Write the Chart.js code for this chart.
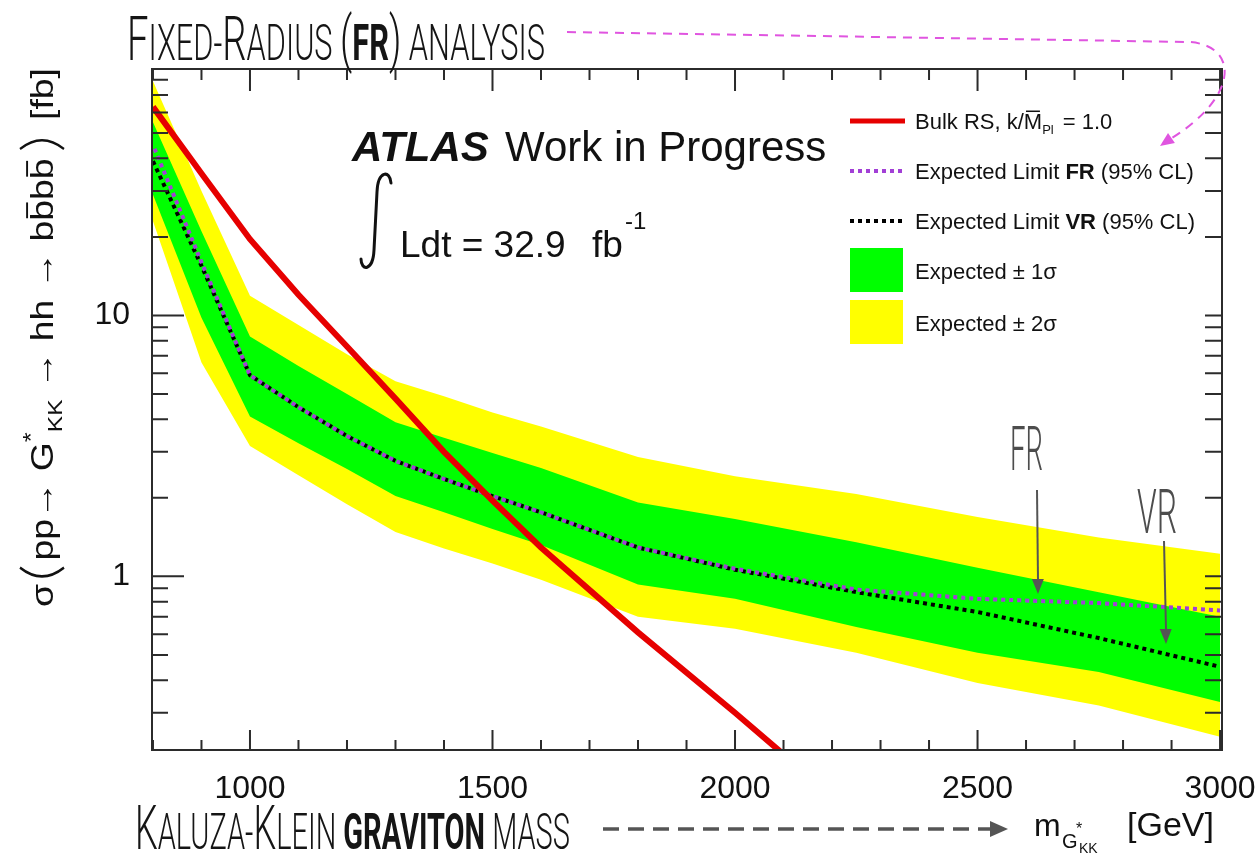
<!DOCTYPE html>
<html>
<head>
<meta charset="utf-8">
<script src="https://cdn.jsdelivr.net/npm/chart.js@4/dist/chart.umd.min.js"></script>
<style>
  html, body { margin: 0; padding: 0; background: #fff; overflow: hidden; }
  #wrap { width: 1257px; height: 854px; position: relative; }
</style>
</head>
<body>
<div id="wrap"><canvas id="c" width="1257" height="854"></canvas></div>
<script>
// Graviton mass points [GeV] for the expected limits and bands
const masses   = [800, 900, 1000, 1100, 1200, 1300, 1400, 1500, 1600, 1800, 2000, 2250, 2500, 2750, 3000];
// Expected +/- 2 sigma band [fb]
const band2Up  = [79, 30, 11.9, 9.2, 7.1, 5.6, 4.9, 4.25, 3.75, 2.87, 2.42, 2.07, 1.69, 1.41, 1.22];
const band2Dn  = [23, 6.6, 3.16, 2.44, 1.89, 1.48, 1.28, 1.12, 0.97, 0.70, 0.63, 0.51, 0.39, 0.32, 0.243];
// Expected +/- 1 sigma band [fb]
const band1Up  = [55, 21, 8.3, 6.4, 5.0, 3.9, 3.4, 2.97, 2.6, 1.92, 1.66, 1.35, 1.08, 0.87, 0.70];
const band1Dn  = [29, 9.8, 4.1, 3.24, 2.58, 2.03, 1.76, 1.52, 1.32, 0.93, 0.82, 0.64, 0.51, 0.43, 0.33];
// Expected 95% CL limits, variable-radius and fixed-radius [fb]
const limitVR  = [39, 15.5, 5.9, 4.45, 3.45, 2.77, 2.36, 2.03, 1.76, 1.29, 1.06, 0.87, 0.73, 0.58, 0.45];
const limitFR  = [45, 16, 5.9, 4.45, 3.45, 2.77, 2.36, 2.03, 1.76, 1.29, 1.07, 0.89, 0.82, 0.79, 0.74];
// Bulk RS prediction, k/MPl = 1.0
const signalMasses = [800, 900, 1000, 1100, 1200, 1300, 1400, 1500, 1600, 1800, 2000, 2250];
const signalXsec   = [63, 35, 19.6, 12.0, 7.6, 4.8, 3.0, 1.95, 1.29, 0.61, 0.30, 0.12];
// Axis ticks
const xTickValues = [800, 900, 1000, 1100, 1200, 1300, 1400, 1500, 1600, 1700, 1800, 1900, 2000,
                     2100, 2200, 2300, 2400, 2500, 2600, 2700, 2800, 2900, 3000];
const xLabelled   = [1000, 1500, 2000, 2500, 3000];
const yTickValues = [0.3, 0.4, 0.5, 0.6, 0.7, 0.8, 0.9, 1, 2, 3, 4, 5, 6, 7, 8, 9,
                     10, 20, 30, 40, 50, 60, 70, 80];
const yLabelled   = [1, 10];

const SANS = '"Liberation Sans", Arial, Helvetica, sans-serif';
const HAND = 'Roboto, "Liberation Sans Narrow", sans-serif';

const pts = (xs, ys) => xs.map((x, i) => ({ x, y: ys[i] }));

function setFont(ctx, r) {
  ctx.font = `${r.italic ? 'italic ' : ''}${r.weight || (r.bold ? 'bold' : 'normal')} ${r.size}px ${r.family || SANS}`;
}
function runWidth(ctx, r) {
  if (r.paren) return 14;
  setFont(ctx, r);
  return ctx.measureText(r.t).width;
}
function runsWidth(ctx, runs) {
  return runs.reduce((w, r) => w + runWidth(ctx, r) + (r.gap || 0), 0);
}
// draws a sequence of styled text pieces along one baseline
function drawRuns(ctx, x, y, runs) {
  for (const r of runs) {
    const w = runWidth(ctx, r);
    const yy = y + (r.dy || 0);
    if (r.paren) {
      // tall thin bracket spanning the full text height
      ctx.save();
      ctx.strokeStyle = ctx.fillStyle;
      ctx.lineWidth = 2.2;
      ctx.beginPath();
      if (r.paren === '(') {
        ctx.moveTo(x + 12, yy - 33);
        ctx.quadraticCurveTo(x - 3, yy - 11, x + 12, yy + 11);
      } else {
        ctx.moveTo(x + 2, yy - 33);
        ctx.quadraticCurveTo(x + 17, yy - 11, x + 2, yy + 11);
      }
      ctx.stroke();
      ctx.restore();
    } else {
      setFont(ctx, r);
      ctx.fillText(r.t, x, yy);
      if (r.over) {
        ctx.fillRect(x + w * 0.12, yy - r.size * 0.84, w * 0.76, Math.max(1.5, r.size * 0.06));
      }
    }
    x += w + (r.gap || 0);
  }
  return x;
}
// text squeezed horizontally between x0 and x1
function drawFitted(ctx, x0, x1, baseline, runs) {
  const w = runsWidth(ctx, runs);
  ctx.save();
  ctx.translate(x0, baseline);
  ctx.scale((x1 - x0) / w, 1);
  drawRuns(ctx, 0, 0, runs);
  ctx.restore();
}
function arrowHead(ctx, tx, ty, dx, dy, len, half) {
  const L = Math.hypot(dx, dy), ux = dx / L, uy = dy / L;
  ctx.beginPath();
  ctx.moveTo(tx, ty);
  ctx.lineTo(tx - ux * len - uy * half, ty - uy * len + ux * half);
  ctx.lineTo(tx - ux * len + uy * half, ty - uy * len - ux * half);
  ctx.closePath();
  ctx.fill();
}

const decor = {
  id: 'decor',
  afterDatasetsDraw(chart) {
    const { ctx, chartArea: a, scales: { x, y } } = chart;
    ctx.save();
    ctx.strokeStyle = '#2b2b2b';
    ctx.lineWidth = 2;
    ctx.beginPath();
    for (const t of x.ticks) {
      const px = x.getPixelForValue(t.value);
      const major = t.value % 500 === 0;
      ctx.moveTo(px, a.bottom); ctx.lineTo(px, a.bottom - (major ? 20 : 10));
      ctx.moveTo(px, a.top);    ctx.lineTo(px, a.top + (major ? 22 : 11));
    }
    for (const t of y.ticks) {
      const py = y.getPixelForValue(t.value);
      const major = yLabelled.includes(t.value);
      ctx.moveTo(a.left, py);  ctx.lineTo(a.left + (major ? 32 : 16), py);
      ctx.moveTo(a.right, py); ctx.lineTo(a.right - 17, py);
    }
    ctx.stroke();
    ctx.strokeRect(a.left, a.top, a.right - a.left, a.bottom - a.top);
    ctx.restore();
  },
  afterDraw(chart) {
    const ctx = chart.ctx;
    const ds = chart.data.datasets;
    ctx.save();
    ctx.fillStyle = '#111';
    ctx.textBaseline = 'alphabetic';
    ctx.textAlign = 'left';

    // y-axis title, rotated
    const yRuns = [
      { t: 'σ', size: 32, gap: 2 },
      { paren: '(', gap: 4 },
      { t: 'pp', size: 32 },
      { t: '→ ', size: 32 },
      { t: 'G', size: 32 },
      { t: '*', size: 22, dy: -15 },
      { t: 'KK', size: 21, dy: 9 },
      { t: ' → hh → ', size: 32 },
      { t: 'b', size: 32 }, { t: 'b', size: 32, over: true },
      { t: 'b', size: 32 }, { t: 'b', size: 32, over: true, gap: 6 },
      { paren: ')', gap: 4 },
      { t: ' [fb]', size: 32 }
    ];
    ctx.save();
    ctx.translate(53, 607);
    ctx.rotate(-Math.PI / 2);
    const yw = runsWidth(ctx, yRuns);
    ctx.scale(539 / yw, 1);
    drawRuns(ctx, 0, 0, yRuns);
    ctx.restore();

    // x-axis title
    drawRuns(ctx, 1034, 836, [{ t: 'm', size: 32 }]);
    drawRuns(ctx, 1062, 848, [{ t: 'G', size: 20 }]);
    drawRuns(ctx, 1076, 834, [{ t: '*', size: 16 }]);
    drawRuns(ctx, 1079, 853, [{ t: 'KK', size: 14 }]);
    drawRuns(ctx, 1127, 836, [{ t: '[GeV]', size: 34 }]);

    // experiment label
    drawRuns(ctx, 352, 161, [{ t: 'ATLAS', size: 42, bold: true, italic: true }]);
    drawRuns(ctx, 505, 161, [{ t: 'Work in Progress', size: 42 }]);
    // integrated luminosity
    ctx.save();
    ctx.strokeStyle = '#111';
    ctx.lineWidth = 3;
    ctx.lineCap = 'round';
    ctx.beginPath();
    ctx.moveTo(391, 183);
    ctx.bezierCurveTo(390, 170, 378, 170, 377, 192);
    ctx.lineTo(374, 250);
    ctx.bezierCurveTo(373, 272, 361, 271, 361, 259);
    ctx.stroke();
    ctx.restore();
    drawRuns(ctx, 400, 257, [{ t: 'Ldt = 32.9', size: 37 }]);
    drawRuns(ctx, 592, 257, [{ t: 'fb', size: 37 }]);
    drawRuns(ctx, 625, 229, [{ t: '-1', size: 24 }]);

    // legend
    const lx0 = 850, lx1 = 905, tx = 915;
    ctx.save();
    ctx.lineCap = 'butt';
    ctx.strokeStyle = ds[0].borderColor; ctx.lineWidth = 5;
    ctx.beginPath(); ctx.moveTo(lx0, 121); ctx.lineTo(lx1, 121); ctx.stroke();
    ctx.setLineDash([4, 4]); ctx.lineWidth = 4;
    ctx.strokeStyle = ds[1].borderColor;
    ctx.beginPath(); ctx.moveTo(lx0, 171); ctx.lineTo(lx1, 171); ctx.stroke();
    ctx.strokeStyle = ds[2].borderColor;
    ctx.beginPath(); ctx.moveTo(lx0, 221); ctx.lineTo(lx1, 221); ctx.stroke();
    ctx.restore();
    ctx.fillStyle = ds[3].backgroundColor; ctx.fillRect(lx0, 248, 53, 44);
    ctx.fillStyle = ds[5].backgroundColor; ctx.fillRect(lx0, 300, 53, 44);
    ctx.fillStyle = '#111';
    drawRuns(ctx, tx, 129, [
      { t: 'Bulk RS, k/', size: 22 }, { t: 'M', size: 22, over: true },
      { t: 'Pl', size: 13, dy: 5, gap: 3 }, { t: ' = 1.0', size: 22 }]);
    drawRuns(ctx, tx, 179, [
      { t: 'Expected Limit ', size: 22 }, { t: 'FR', size: 22, bold: true }, { t: ' (95% CL)', size: 22 }]);
    drawRuns(ctx, tx, 229, [
      { t: 'Expected Limit ', size: 22 }, { t: 'VR', size: 22, bold: true }, { t: ' (95% CL)', size: 22 }]);
    drawRuns(ctx, tx, 279, [{ t: 'Expected ± 1σ', size: 22 }]);
    drawRuns(ctx, tx, 331, [{ t: 'Expected ± 2σ', size: 22 }]);

    // hand-written notes
    const big = (t, bold) => ({ t, size: 62, family: HAND, weight: bold ? '700' : '300' });
    const sml = (t, bold) => ({ t, size: 50, family: HAND, weight: bold ? '700' : '300' });
    ctx.fillStyle = '#151515';
    drawFitted(ctx, 127, 545, 60, [
      big('F'), sml('IXED-'), big('R'), sml('ADIUS '), big('('), sml('FR', true), big(')'), sml(' ANALYSIS')]);
    drawFitted(ctx, 135, 570, 849, [
      big('K'), sml('ALUZA-'), big('K'), sml('LEIN '), sml('GRAVITON', true), sml(' MASS')]);
    ctx.fillStyle = '#4d4d4d';
    drawFitted(ctx, 1010, 1043, 470, [big('FR')]);
    drawFitted(ctx, 1137, 1177, 533, [big('VR')]);

    // arrows
    ctx.strokeStyle = '#555'; ctx.fillStyle = '#555';
    ctx.lineWidth = 2;
    ctx.beginPath(); ctx.moveTo(1037, 490); ctx.lineTo(1038, 580); ctx.stroke();
    arrowHead(ctx, 1038, 594, 0.01, 1, 15, 6);
    ctx.beginPath(); ctx.moveTo(1164, 541); ctx.lineTo(1166, 630); ctx.stroke();
    arrowHead(ctx, 1166, 644, 0.02, 1, 15, 6);
    ctx.save();
    ctx.lineWidth = 3.5; ctx.setLineDash([16, 9]);
    ctx.beginPath(); ctx.moveTo(603, 829); ctx.lineTo(990, 829); ctx.stroke();
    ctx.restore();
    arrowHead(ctx, 1008, 829, 1, 0, 18, 8);

    ctx.save();
    ctx.strokeStyle = '#e055e0'; ctx.fillStyle = '#e055e0';
    ctx.lineWidth = 2; ctx.setLineDash([9, 7]);
    ctx.beginPath();
    ctx.moveTo(567, 32);
    ctx.lineTo(1190, 42);
    ctx.bezierCurveTo(1238, 46, 1240, 95, 1172, 138);
    ctx.stroke();
    ctx.restore();
    ctx.fillStyle = '#e055e0';
    arrowHead(ctx, 1160, 146, -40, 28, 14, 6);

    ctx.restore();
  }
};

Chart.defaults.font.family = SANS;

new Chart(document.getElementById('c'), {
  type: 'line',
  data: {
    datasets: [
      { label: 'Bulk RS, k/MPl = 1.0', data: pts(signalMasses, signalXsec),
        borderColor: '#e60000', borderWidth: 6, fill: false, order: 0 },
      { label: 'Expected Limit FR (95% CL)', data: pts(masses, limitFR),
        borderColor: '#a23fd6', borderWidth: 4, borderDash: [4, 4], borderDashOffset: 4, fill: false, order: 1 },
      { label: 'Expected Limit VR (95% CL)', data: pts(masses, limitVR),
        borderColor: '#000000', borderWidth: 4, borderDash: [4, 4], fill: false, order: 2 },
      { label: 'Expected ± 1σ', data: pts(masses, band1Up),
        borderWidth: 0, borderColor: 'rgba(0,0,0,0)', backgroundColor: '#00ff00', fill: '+1', order: 5 },
      { label: '-1σ', data: pts(masses, band1Dn),
        borderWidth: 0, borderColor: 'rgba(0,0,0,0)', fill: false, order: 5 },
      { label: 'Expected ± 2σ', data: pts(masses, band2Up),
        borderWidth: 0, borderColor: 'rgba(0,0,0,0)', backgroundColor: '#ffff00', fill: '+1', order: 6 },
      { label: '-2σ', data: pts(masses, band2Dn),
        borderWidth: 0, borderColor: 'rgba(0,0,0,0)', fill: false, order: 6 }
    ]
  },
  options: {
    responsive: false,
    animation: false,
    devicePixelRatio: 1,
    events: [],
    layout: { padding: { top: 69, right: 35, left: 0, bottom: 0 } },
    elements: { point: { radius: 0 }, line: { tension: 0 } },
    plugins: { legend: { display: false }, tooltip: { enabled: false }, title: { display: false } },
    scales: {
      x: {
        type: 'linear', min: 798, max: 3004,
        afterBuildTicks: s => { s.ticks = xTickValues.map(v => ({ value: v })); },
        afterFit: s => { s.height = 104; s.paddingLeft = 0; s.paddingRight = 0; },
        grid: { display: false }, border: { display: false },
        ticks: {
          autoSkip: false, maxRotation: 0, minRotation: 0, padding: 12, color: '#111',
          font: { family: SANS, size: 32 },
          callback: v => xLabelled.includes(v) ? String(v) : ''
        }
      },
      y: {
        type: 'logarithmic', min: 0.216, max: 88,
        afterBuildTicks: s => { s.ticks = yTickValues.map(v => ({ value: v })); },
        afterFit: s => { s.width = 152; s.paddingTop = 0; s.paddingBottom = 0; },
        grid: { display: false }, border: { display: false },
        ticks: {
          autoSkip: false, padding: 14, color: '#111',
          font: { family: SANS, size: 32 },
          callback: v => yLabelled.includes(v) ? String(v) : ''
        }
      }
    }
  },
  plugins: [decor]
});
</script>
</body>
</html>
